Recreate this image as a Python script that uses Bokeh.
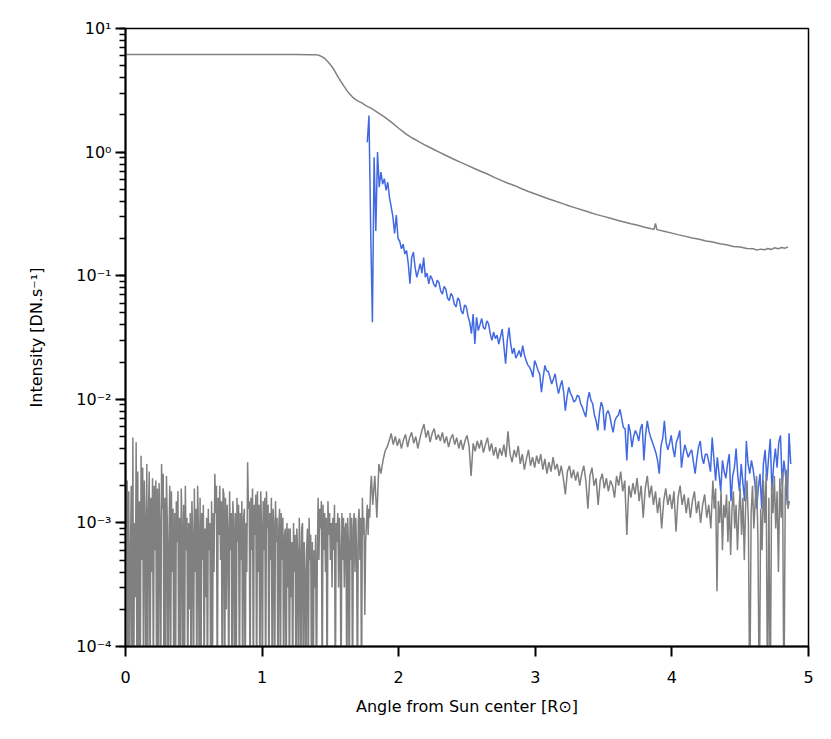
import numpy as np
from bokeh.plotting import figure
from bokeh.models import Range1d, FixedTicker, CustomJSTickFormatter, LogTicker
from bokeh.embed import file_html
from bokeh.resources import INLINE

# ---------------- data ----------------
top_x = [0.0, 0.25, 0.5, 0.75, 1.0, 1.25, 1.35, 1.40, 1.42, 1.44, 1.46, 1.48, 1.50, 1.52,
         1.54, 1.56, 1.58, 1.60, 1.62, 1.64, 1.66, 1.68, 1.70, 1.73, 1.76, 1.80, 1.85, 1.90,
         1.95, 2.00, 2.05, 2.10, 2.15, 2.20, 2.25, 2.30, 2.35, 2.40, 2.45, 2.50, 2.55, 2.60,
         2.65, 2.70, 2.75, 2.80, 2.85, 2.90, 2.95, 3.00, 3.05, 3.10, 3.15, 3.20, 3.25, 3.30,
         3.35, 3.40, 3.45, 3.50, 3.55, 3.60, 3.65, 3.70, 3.75, 3.80, 3.85, 3.87, 3.88, 3.89,
         3.95, 4.00, 4.05, 4.10, 4.15, 4.20, 4.25, 4.30, 4.35, 4.40, 4.45, 4.50, 4.55, 4.60,
         4.62, 4.65, 4.68, 4.70, 4.73, 4.75, 4.78, 4.80, 4.83, 4.85]
top_y = [6.15, 6.15, 6.15, 6.15, 6.15, 6.15, 6.14, 6.12, 6.05, 5.9, 5.7, 5.4, 5.1, 4.75,
         4.35, 3.98, 3.68, 3.40, 3.16, 2.96, 2.80, 2.68, 2.60, 2.50, 2.38, 2.26, 2.08, 1.91,
         1.73, 1.56, 1.41, 1.30, 1.21, 1.13, 1.06, 0.995, 0.935, 0.88, 0.83, 0.785, 0.74, 0.70,
         0.665, 0.625, 0.59, 0.56, 0.535, 0.505, 0.48, 0.458, 0.437, 0.418, 0.40, 0.383, 0.366, 0.352,
         0.338, 0.325, 0.312, 0.302, 0.292, 0.281, 0.272, 0.263, 0.256, 0.247, 0.240, 0.238, 0.265, 0.236,
         0.228, 0.221, 0.214, 0.208, 0.202, 0.197, 0.191, 0.187, 0.181, 0.178, 0.172, 0.171, 0.166, 0.165,
         0.161, 0.164, 0.162, 0.166, 0.163, 0.168, 0.165, 0.169, 0.167, 0.171]

# blue series: regular grid from 1.77 to 4.87
blue_start, blue_end = 1.77, 4.87
blue_y = [1.20, 1.98, 0.23, 0.042, 0.91, 0.23, 1.0, 0.52, 0.69, 0.55, 0.61, 0.49, 0.57, 0.43,
          0.36, 0.30, 0.22, 0.31, 0.20, 0.19, 0.165, 0.18, 0.15, 0.16, 0.125, 0.086, 0.14, 0.155,
          0.117, 0.097, 0.11, 0.125, 0.105, 0.14, 0.097, 0.105, 0.086, 0.10, 0.094, 0.085, 0.081,
          0.092, 0.088, 0.075, 0.071, 0.082, 0.078, 0.066, 0.063, 0.072, 0.068, 0.059, 0.056, 0.066,
          0.063, 0.052, 0.049, 0.058, 0.056, 0.047, 0.042, 0.034, 0.049, 0.028, 0.046, 0.036, 0.040,
          0.045, 0.038, 0.037, 0.043, 0.041, 0.034, 0.030, 0.035, 0.031, 0.033, 0.028, 0.032, 0.037,
          0.027, 0.0194, 0.030, 0.038, 0.028, 0.0233, 0.026, 0.0215, 0.023, 0.0248, 0.022, 0.0272,
          0.023, 0.0206, 0.019, 0.0182, 0.017, 0.0151, 0.0206, 0.019, 0.0171, 0.016, 0.0114, 0.015,
          0.0188, 0.017, 0.0168, 0.015, 0.0133, 0.0145, 0.0161, 0.013, 0.0111, 0.0128, 0.0142, 0.0115,
          0.0081, 0.0105, 0.0125, 0.0112, 0.0105, 0.0095, 0.0098, 0.0108, 0.0105, 0.0092, 0.0086,
          0.0078, 0.0072, 0.0098, 0.0114, 0.0098, 0.0092, 0.0075, 0.0067, 0.0056, 0.0078, 0.0095,
          0.0086, 0.0056, 0.0076, 0.0081, 0.0074, 0.0062, 0.0054, 0.0067, 0.0072, 0.0074, 0.0083,
          0.0070, 0.0059, 0.0058, 0.0032, 0.0063, 0.0055, 0.0041, 0.0050, 0.0056, 0.0052, 0.0046,
          0.0058, 0.0063, 0.0032, 0.0052, 0.0067, 0.0055, 0.0049, 0.0045, 0.0041, 0.0037, 0.0032,
          0.0025, 0.0042, 0.0048, 0.0067, 0.0045, 0.0039, 0.0044, 0.0051, 0.0040, 0.0034, 0.0045,
          0.0049, 0.0056, 0.0028, 0.0036, 0.0043, 0.0038, 0.0034, 0.0037, 0.0039, 0.0031, 0.0025,
          0.0033, 0.0041, 0.0046, 0.0034, 0.0030, 0.0036, 0.0036, 0.0031, 0.0026, 0.0049, 0.0033,
          0.0022, 0.0034, 0.0025, 0.0018, 0.0032, 0.0026, 0.0023, 0.0030, 0.0036, 0.0015, 0.0024,
          0.0028, 0.0040, 0.0024, 0.0018, 0.0030, 0.0021, 0.0015, 0.0046, 0.0030, 0.0025, 0.0032,
          0.0027, 0.0021, 0.0013, 0.0019, 0.0025, 0.0013, 0.0030, 0.0039, 0.0022, 0.0033, 0.0048,
          0.0018, 0.0030, 0.0040, 0.0028, 0.0045, 0.0051, 0.0020, 0.0032, 0.0024, 0.0014, 0.0053,
          0.0030]

# lower gray series, three regular-grid segments (values below 1e-4 run off the axis)
low_start, low_end = 0.0, 1.80
bg_low = [2.8e-3, 9e-4, 2.2e-3, 3e-5, 1.8e-3, 3e-5, 5.4e-4, 2.0e-3, 3e-5, 4.9e-3,
          3e-5, 1.0e-3, 2.5e-4, 4.5e-3, 3e-5, 2.6e-3, 3e-5, 1.5e-3, 3e-5, 3.5e-3,
          5e-4, 2.8e-3, 3e-5, 2.2e-3, 1.1e-3, 3e-5, 3.0e-3, 3e-5, 1.2e-3, 2.6e-3,
          3e-5, 1.6e-3, 4e-4, 2.3e-3, 3e-5, 2.0e-3, 6e-4, 2.2e-3, 3e-5, 1.9e-3,
          3e-5, 2.1e-3, 1.0e-3, 3e-5, 3.0e-3, 1.3e-3, 2.5e-3, 3e-5, 1.6e-3, 3e-5,
          2.4e-3, 1.0e-3, 3e-5, 7e-4, 2.0e-3, 3e-5, 1.8e-3, 4e-4, 1.3e-3, 3e-5,
          1.2e-3, 3e-5, 1.5e-3, 7e-4, 1.8e-3, 3e-5, 1.1e-3, 3e-5, 1.9e-3, 1.0e-3,
          3e-5, 1.4e-3, 3e-5, 2.0e-3, 6e-4, 1.1e-3, 3e-5, 1.0e-3, 2e-4, 1.2e-3,
          3e-5, 1.5e-3, 8e-4, 3e-5, 1.9e-3, 4e-4, 1.3e-3, 3e-5, 2.0e-3, 9e-4,
          3e-5, 1.6e-3, 3e-5, 1.2e-3, 5e-4, 1.4e-3, 3e-5, 9e-4, 2.5e-4, 1.1e-3,
          3e-5, 1.3e-3, 6e-4, 1.0e-3, 3e-5, 1.5e-3, 3e-5, 1.2e-3, 4e-4, 2.5e-3,
          1.2e-3, 2.0e-3, 3e-5, 1.6e-3, 8e-4, 2.0e-3, 5e-4, 1.5e-3, 3e-5, 1.9e-3,
          1.7e-3, 3e-5, 1.6e-3, 2e-4, 1.4e-3, 9e-4, 3e-5, 1.8e-3, 6e-4, 1.2e-3,
          3e-5, 1.5e-3, 1.0e-3, 3e-5, 1.2e-3, 3e-5, 1.6e-3, 7e-4, 1.4e-3, 3e-5,
          1.2e-3, 5e-4, 1.5e-3, 3e-5, 1.1e-3, 1.3e-3, 3e-5, 1.0e-3, 4e-4, 3.1e-3,
          1.3e-3, 1.5e-3, 3e-5, 1.6e-3, 6e-4, 1.9e-3, 3e-5, 1.4e-3, 8e-4, 1.7e-3,
          3e-5, 1.8e-3, 4e-4, 1.4e-3, 3e-5, 1.8e-3, 1.0e-3, 3e-5, 1.5e-3, 6e-4,
          1.6e-3, 3e-5, 1.8e-3, 9e-4, 1.4e-3, 3e-5, 1.2e-3, 5e-4, 1.6e-3, 3e-5,
          1.3e-3, 1.0e-3, 3e-5, 1.5e-3, 7e-4, 1.1e-3, 3e-5, 9e-4, 1.3e-3, 3e-5,
          1.2e-3, 5e-4, 1.1e-3, 3e-5, 8e-4, 9e-4, 3e-5, 1.0e-3, 3e-4, 9e-4,
          3e-5, 9e-4, 2.5e-4, 7e-4, 3e-5, 1.0e-3, 4e-4, 8e-4, 3e-5, 9e-4,
          6e-4, 3e-5, 1.1e-3, 6e-4, 3e-5, 9e-4, 1.0e-3, 3e-5, 7e-4, 4e-4,
          3e-5, 6e-4, 9e-4, 3e-5, 1.1e-3, 5e-4, 8e-4, 3e-5, 7e-4, 3e-5,
          6e-4, 3e-4, 8e-4, 3e-5, 5e-4, 1.6e-3, 5e-4, 1.3e-3, 9e-4, 1.5e-3,
          3e-5, 1.4e-3, 6e-4, 1.2e-3, 4e-4, 1.1e-3, 3e-5, 1.5e-3, 8e-4, 1.2e-3,
          5e-4, 1.0e-3, 3e-4, 1.1e-3, 6e-4, 1.4e-3, 3e-5, 1.0e-3, 7e-4, 1.2e-3,
          3e-4, 1.1e-3, 6e-4, 3e-5, 1.2e-3, 5e-4, 1.1e-3, 3e-4, 9e-4, 1.0e-3,
          3e-5, 1.1e-3, 7e-4, 3e-5, 1.2e-3, 5e-4, 1.1e-3, 3e-5, 9e-4, 1.2e-3,
          4e-4, 1.1e-3, 6e-4, 3e-5, 1.0e-3, 1.3e-3, 5e-4, 1.1e-3, 3e-5, 1.6e-3,
          8e-4, 1.1e-3, 1.8e-4, 7e-4, 1.0e-3, 1.4e-3, 8e-4, 1.3e-3, 1.1e-3, 1.9e-3,
          2.4e-3]
mid_start, mid_end = 1.81, 4.30
bg_mid = [1.4e-3, 2.4e-3, 1.1e-3, 3.0e-3, 2.5e-3, 3.2e-3, 3.8e-3, 4.1e-3, 4.6e-3, 5.3e-3,
          4.3e-3, 5.0e-3, 4.2e-3, 4.8e-3, 4.0e-3, 4.7e-3, 5.2e-3, 4.1e-3, 4.9e-3, 5.4e-3,
          4.4e-3, 5.0e-3, 4.0e-3, 4.8e-3, 5.6e-3, 6.3e-3, 4.9e-3, 5.6e-3, 4.5e-3, 5.3e-3,
          5.8e-3, 4.7e-3, 5.2e-3, 4.6e-3, 5.4e-3, 4.4e-3, 5.0e-3, 4.1e-3, 4.8e-3, 5.2e-3,
          4.3e-3, 4.9e-3, 4.0e-3, 4.7e-3, 3.9e-3, 4.6e-3, 5.1e-3, 4.2e-3, 2.4e-3, 4.4e-3,
          3.8e-3, 4.6e-3, 4.0e-3, 4.7e-3, 3.7e-3, 4.3e-3, 4.9e-3, 3.8e-3, 4.4e-3, 3.5e-3,
          4.1e-3, 3.3e-3, 4.0e-3, 3.5e-3, 4.3e-3, 3.4e-3, 5.5e-3, 3.6e-3, 3.1e-3, 3.9e-3,
          3.4e-3, 4.2e-3, 3.0e-3, 3.6e-3, 2.7e-3, 3.3e-3, 3.9e-3, 2.9e-3, 3.4e-3, 2.8e-3,
          3.5e-3, 3.0e-3, 3.6e-3, 2.7e-3, 3.3e-3, 2.5e-3, 3.1e-3, 2.6e-3, 3.4e-3, 2.7e-3,
          3.0e-3, 2.4e-3, 2.9e-3, 2.3e-3, 1.7e-3, 2.6e-3, 2.9e-3, 2.3e-3, 2.7e-3, 2.2e-3,
          2.6e-3, 2.0e-3, 2.5e-3, 2.9e-3, 2.2e-3, 1.3e-3, 2.4e-3, 2.8e-3, 2.0e-3, 2.3e-3,
          1.4e-3, 2.2e-3, 2.5e-3, 1.9e-3, 2.3e-3, 1.8e-3, 2.2e-3, 2.0e-3, 1.6e-3, 2.4e-3,
          2.0e-3, 2.6e-3, 1.8e-3, 2.2e-3, 8.0e-4, 2.0e-3, 1.6e-3, 2.1e-3, 1.7e-3, 2.3e-3,
          1.5e-3, 2.0e-3, 1.1e-3, 1.9e-3, 2.4e-3, 1.6e-3, 2.0e-3, 1.4e-3, 1.8e-3, 1.2e-3,
          1.6e-3, 9.0e-4, 1.5e-3, 1.9e-3, 1.4e-3, 1.7e-3, 1.3e-3, 1.8e-3, 8.5e-4, 1.6e-3,
          2.0e-3, 1.4e-3, 1.7e-3, 1.2e-3, 1.6e-3, 1.1e-3, 1.5e-3, 1.8e-3, 1.2e-3, 1.5e-3,
          1.0e-3, 1.4e-3, 1.7e-3, 1.1e-3, 1.4e-3, 9.0e-4, 2.2e-3]
tail_start, tail_end = 4.31, 4.86
bg_tail = [1.3e-3, 1.9e-3, 2.8e-4, 1.5e-3, 1.0e-3, 1.8e-3, 6e-4, 1.4e-3, 1.1e-3, 1.7e-3,
           7e-4, 1.5e-3, 5.5e-4, 1.3e-3, 1.8e-3, 9e-4, 1.4e-3, 6e-4, 1.2e-3, 1.9e-3,
           8e-4, 1.6e-3, 5e-4, 1.4e-3, 2.2e-3, 1.0e-3, 3e-5, 1.2e-3, 2.0e-3, 9e-4,
           1.5e-3, 2.4e-3, 7e-4, 3e-5, 1.3e-3, 6e-4, 2.2e-3, 1.0e-3, 2.5e-3, 3e-5,
           1.6e-3, 3e-5, 2.1e-3, 1.2e-3, 2.4e-3, 9e-4, 1.8e-3, 4e-4, 2.3e-3, 1.1e-3,
           2.6e-3, 3e-5, 1.9e-3, 2.7e-3, 1.3e-3, 1.5e-3]

x_ticks = [0, 1, 2, 3, 4, 5]

# ---------------- figure ----------------
p = figure(width=815, height=723, output_backend="svg", toolbar_location=None,
           x_axis_type="linear", y_axis_type="log",
           x_range=Range1d(0, 5), y_range=Range1d(1e-4, 10),
           min_border_left=125, min_border_right=7, min_border_top=28, min_border_bottom=77)
p.background_fill_color = "white"
p.border_fill_color = "white"
p.outline_line_color = "black"
p.outline_line_width = 1.5
p.grid.visible = False

n = min(len(top_x), len(top_y))
p.line(top_x[:n], top_y[:n], line_color="#808080", line_width=1.5)

bx = np.linspace(blue_start, blue_end, len(blue_y))
p.line(bx, blue_y, line_color="#4169E1", line_width=1.5)

gx = np.concatenate([np.linspace(low_start, low_end, len(bg_low)),
                     np.linspace(mid_start, mid_end, len(bg_mid)),
                     np.linspace(tail_start, tail_end, len(bg_tail))])
gy = np.array(bg_low + bg_mid + bg_tail)
p.line(gx, gy, line_color="#808080", line_width=1.5)

font = "DejaVu Sans"
# x axis
xa = p.xaxis[0]
xa.ticker = FixedTicker(ticks=x_ticks, minor_ticks=[])
xa.axis_label = "Angle from Sun center [R\u2299]"
# y axis
ya = p.yaxis[0]
ya.ticker = LogTicker(num_minor_ticks=10)
ya.formatter = CustomJSTickFormatter(code="""
const e = Math.round(Math.log10(tick));
const sup = {'-':'\u207b','0':'\u2070','1':'\u00b9','2':'\u00b2','3':'\u00b3','4':'\u2074','5':'\u2075','6':'\u2076','7':'\u2077','8':'\u2078','9':'\u2079'};
return '10' + String(e).split('').map(c => sup[c]).join('');
""")
ya.axis_label = "Intensity [DN.s\u207b\u00b9]"

for ax in (xa, ya):
    ax.axis_line_color = "black"
    ax.axis_line_width = 2
    ax.major_tick_line_color = "black"
    ax.major_tick_line_width = 2
    ax.major_tick_out = 10
    ax.major_tick_in = 0
    ax.minor_tick_line_color = "black"
    ax.minor_tick_line_width = 1.5
    ax.minor_tick_out = 6
    ax.minor_tick_in = 0
    ax.major_label_text_font = font
    ax.major_label_text_font_size = "16px"
    ax.major_label_text_color = "black"
    ax.axis_label_text_font = font
    ax.axis_label_text_font_size = "16px"
    ax.axis_label_text_font_style = "normal"
    ax.axis_label_text_color = "black"

xa.major_label_standoff = 14
xa.axis_label_standoff = 11
ya.major_label_standoff = 4
ya.axis_label_standoff = 27

open("out.html", "w").write(file_html(p, INLINE))
